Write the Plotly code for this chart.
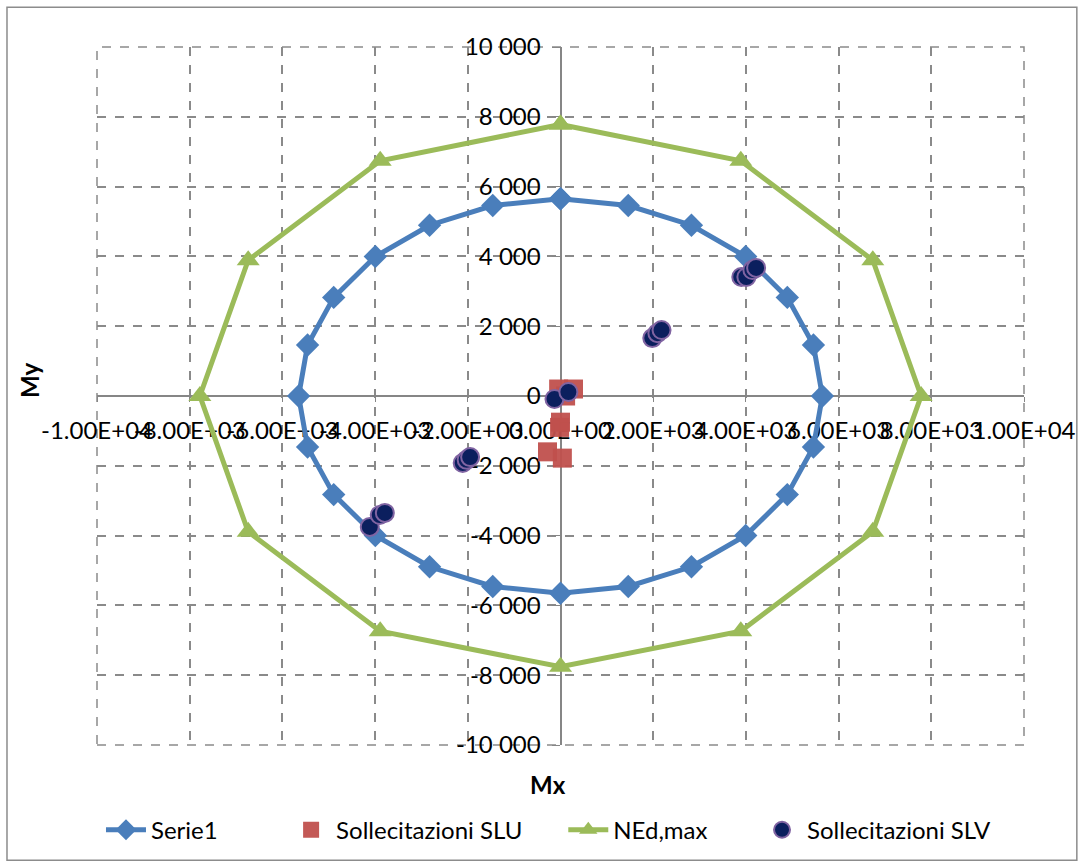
import plotly.graph_objects as go

# --- data ---
serie1_x = [0, 1462, 2825, 3995, 4893, 5457, 5650, 5457, 4893, 3995, 2825, 1462, 0,
            -1462, -2825, -3995, -4893, -5457, -5650, -5457, -4893, -3995, -2825, -1462, 0]
serie1_y = [5650, 5457, 4893, 3995, 2825, 1462, 0, -1462, -2825, -3995, -4893, -5457, -5650,
            -5457, -4893, -3995, -2825, -1462, 0, 1462, 2825, 3995, 4893, 5457, 5650]

ned_x = [0, 3890, 6738, 7780, 6738, 3890, 0, -3890, -6738, -7780, -6738, -3890, 0]
ned_y = [7780, 6738, 3890, 0, -3890, -6738, -7760, -6738, -3890, 0, 3890, 6738, 7780]

slu_x = [-40, 280, 110, 0, -20, -280, 40]
slu_y = [200, 200, 0, -750, -900, -1600, -1780]

slv_x = [-130, 170, -2110, -2025, -1950, -4115, -3900, -3790, 1980, 2090, 2180, 3900, 4010, 4140, 4220]
slv_y = [-85, 115, -1920, -1830, -1750, -3750, -3410, -3350, 1660, 1800, 1890, 3410, 3410, 3610, 3670]

x_tickvals = [-10000, -8000, -6000, -4000, -2000, 0, 2000, 4000, 6000, 8000, 10000]
x_ticktext = ["-1.00E+04", "-8.00E+03", "-6.00E+03", "-4.00E+03", "-2.00E+03", "0.00E+00",
              "2.00E+03", "4.00E+03", "6.00E+03", "8.00E+03", "1.00E+04"]
y_tickvals = [-10000, -8000, -6000, -4000, -2000, 0, 2000, 4000, 6000, 8000, 10000]
y_ticktext = ["-10 000", "-8 000", "-6 000", "-4 000", "-2 000", "0",
              "2 000", "4 000", "6 000", "8 000", "10 000"]

FONT = "Lato"
FS = 24
GRID = "#8a8a8a"

fig = go.Figure()
fig.add_trace(go.Scatter(x=serie1_x, y=serie1_y, mode="lines+markers", name="Serie1",
                         line=dict(color="#4A7EBB", width=5),
                         marker=dict(symbol="diamond", size=18, color="#4A7EBB"),
                         legend="legend"))
fig.add_trace(go.Scatter(x=slu_x, y=slu_y, mode="markers", name="Sollecitazioni SLU",
                         marker=dict(symbol="square", size=19, color="#C0504D", opacity=0.95),
                         legend="legend2"))
fig.add_trace(go.Scatter(x=ned_x, y=ned_y, mode="lines+markers", name="NEd,max",
                         line=dict(color="#9BBB59", width=5),
                         marker=dict(symbol="triangle-up", size=20, color="#9BBB59"),
                         legend="legend3"))
fig.add_trace(go.Scatter(x=slv_x, y=slv_y, mode="markers", name="Sollecitazioni SLV",
                         marker=dict(symbol="circle", size=18, color="#0B1F5E",
                                     line=dict(color="#8064A2", width=2)),
                         legend="legend4"))

axis_common = dict(range=[-10000, 10000], automargin=False,
                   showgrid=True, gridcolor=GRID, griddash="dash", gridwidth=1.5,
                   zeroline=False, showline=True, linecolor="#868686", linewidth=2,
                   anchor="free", position=0.5, ticks="outside", tickcolor="#868686",
                   tickfont=dict(family=FONT, size=FS), layer="below traces", fixedrange=True)


def leg(xpos):
    return dict(orientation="h", x=xpos, xanchor="left", y=-0.122, yanchor="middle",
                font=dict(family=FONT, size=FS), itemwidth=40, bgcolor="rgba(0,0,0,0)")


fig.update_layout(
    width=1083, height=867, autosize=False,
    margin=dict(l=97, r=59, t=47, b=122, autoexpand=False),
    paper_bgcolor="white", plot_bgcolor="white",
    font=dict(family=FONT, size=FS, color="black"),
    showlegend=True,
    legend=leg(0.0043),
    legend2=leg(0.204),
    legend3=leg(0.503),
    legend4=leg(0.712),
    xaxis=dict(axis_common, tickvals=x_tickvals, ticktext=x_ticktext, tickangle=0,
               ticklen=5, ticklabelstandoff=8),
    yaxis=dict(axis_common, tickvals=y_tickvals, ticktext=y_ticktext,
               ticklen=8, ticklabelstandoff=6),
    shapes=[
        dict(type="rect", xref="paper", yref="paper",
             x0=-0.0971, x1=1.057, y0=-0.165, y1=1.057,
             line=dict(color="#8c8c8c", width=1.5), fillcolor="rgba(0,0,0,0)", layer="below"),
        dict(type="rect", xref="paper", yref="paper", x0=0, x1=1, y0=0, y1=1,
             line=dict(color=GRID, width=1.5, dash="dash"), fillcolor="rgba(0,0,0,0)",
             layer="below"),
    ],
    annotations=[
        dict(text="<b>Mx</b>", xref="paper", yref="paper", x=0.4865, y=-0.0573,
             xanchor="center", yanchor="middle",
             showarrow=False, font=dict(family=FONT, size=FS)),
        dict(text="<b>My</b>", xref="paper", yref="paper", x=-0.0723, y=0.523,
             xanchor="center", yanchor="middle",
             textangle=-90, showarrow=False, font=dict(family=FONT, size=FS)),
    ],
)

fig.write_html("out.html", post_script="document.body.style.margin='0';",
               config={"displayModeBar": False})
